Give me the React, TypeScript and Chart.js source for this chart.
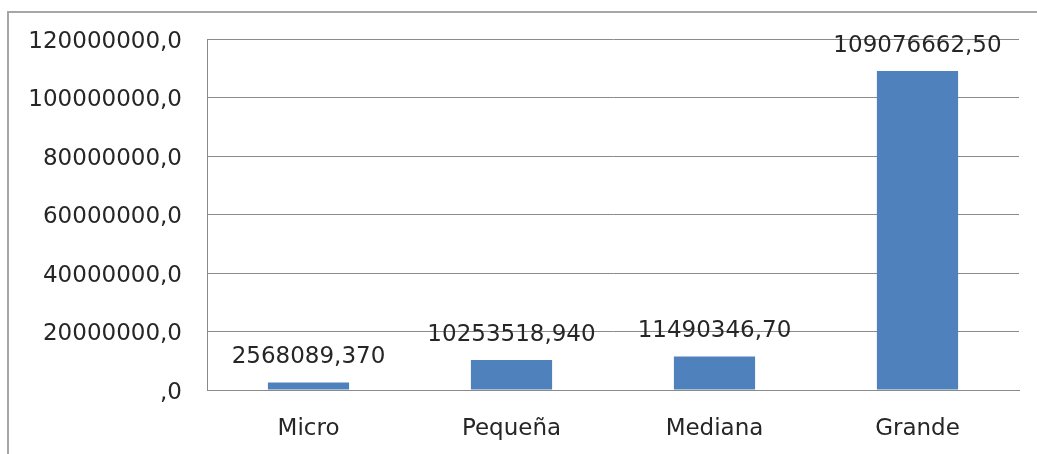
import React, { useEffect, useRef } from "react";
import { Chart, registerables } from "chart.js";

Chart.register(...registerables);

const categories = ["Micro", "Pequeña", "Mediana", "Grande"];
const values = [2568089.37, 10253518.94, 11490346.7, 109076662.5];
const valueLabels = ["2568089,370", "10253518,940", "11490346,70", "109076662,50"];
const yMax = 120000000;
const yStep = 20000000;

const FONT = "'DejaVu Sans', sans-serif";
const TEXT = "#262626";
const GRID = "#8a8a8a";

const valueLabelPlugin = {
  id: "valueLabels",
  afterDatasetsDraw(chart: any) {
    const ctx = chart.ctx;
    const meta = chart.getDatasetMeta(0);
    ctx.save();
    ctx.font = `23px ${FONT}`;
    ctx.fillStyle = TEXT;
    ctx.textAlign = "center";
    ctx.textBaseline = "middle";
    meta.data.forEach((bar: any, i: number) => {
      ctx.fillText(valueLabels[i], bar.x, bar.y - 25);
    });
    ctx.restore();
  },
};

export default function App() {
  const ref = useRef<HTMLCanvasElement | null>(null);
  useEffect(() => {
    if (!ref.current) return;
    const chart = new Chart(ref.current, {
      type: "bar",
      data: {
        labels: categories,
        datasets: [
          {
            data: values,
            backgroundColor: "#4F81BD",
            borderWidth: 0,
            barPercentage: 0.4,
            categoryPercentage: 1,
          },
        ],
      },
      options: {
        animation: false,
        responsive: false,
        maintainAspectRatio: false,
        layout: { padding: { top: 39, right: 18, left: 0, bottom: 0 } },
        plugins: { legend: { display: false }, tooltip: { enabled: false } },
        scales: {
          x: {
            grid: { display: false, drawTicks: false },
            border: { display: true, color: GRID, width: 1 },
            ticks: { color: TEXT, font: { family: FONT, size: 23 }, padding: 25 },
            afterFit(scale: any) {
              scale.height = 454 - 390;
            },
          },
          y: {
            min: 0,
            max: yMax,
            ticks: {
              stepSize: yStep,
              color: TEXT,
              font: { family: FONT, size: 23 },
              padding: 25,
              labelOffset: 3,
              callback: (v: any) => (v === 0 ? ",0" : `${v},0`),
            },
            grid: { color: GRID, drawTicks: false, lineWidth: 1 },
            border: { display: true, color: GRID, width: 1 },
            afterFit(scale: any) {
              scale.width = 207;
            },
          },
        },
      },
      plugins: [valueLabelPlugin],
    });
    return () => chart.destroy();
  }, []);

  return (
    <div
      style={{
        position: "fixed",
        left: 0,
        top: 0,
        width: 1037,
        height: 454,
        overflow: "hidden",
        background: "#fff",
      }}
    >
      <div
        style={{
          position: "absolute",
          left: 7,
          top: 11,
          width: 1100,
          height: 500,
          borderLeft: "2px solid #a6a6a6",
          borderTop: "2px solid #a6a6a6",
        }}
      />
      <canvas
        ref={ref}
        width={1037}
        height={454}
        style={{ position: "absolute", left: 0, top: 0, width: 1037, height: 454 }}
      />
    </div>
  );
}
